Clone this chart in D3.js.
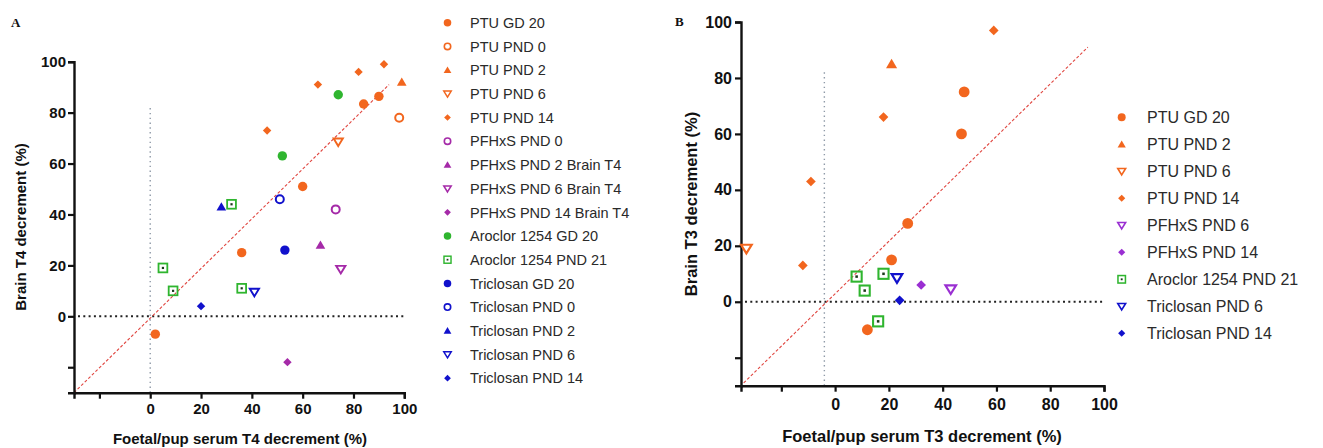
<!DOCTYPE html>
<html>
<head>
<meta charset="utf-8">
<script src="https://cdn.jsdelivr.net/npm/d3@7"></script>
<style>
  html, body { margin: 0; padding: 0; background: #fff; }
  svg text { font-family: "Liberation Sans", Arial, sans-serif; }
</style>
</head>
<body>
<svg id="chart" width="1323" height="448"></svg>
<script>
// ---------- DATA ----------
// Panel A: serum T4 vs brain T4
const seriesA = ["PTU GD 20", "PTU PND 0", "PTU PND 2", "PTU PND 6", "PTU PND 14",
  "PFHxS PND 0", "PFHxS PND 2 Brain T4", "PFHxS PND 6 Brain T4", "PFHxS PND 14 Brain T4",
  "Aroclor 1254 GD 20", "Aroclor 1254 PND 21",
  "Triclosan GD 20", "Triclosan PND 0", "Triclosan PND 2", "Triclosan PND 6", "Triclosan PND 14"];
const pointsA = [
  ["PTU GD 20", 84, 83.4], ["PTU GD 20", 90, 86.4], ["PTU GD 20", 60, 51], ["PTU GD 20", 36, 25], ["PTU GD 20", 2, -7],
  ["PTU PND 0", 98, 78],
  ["PTU PND 2", 99, 92],
  ["PTU PND 6", 74, 68.5],
  ["PTU PND 14", 66, 91], ["PTU PND 14", 82, 96], ["PTU PND 14", 92, 99], ["PTU PND 14", 46, 73],
  ["PFHxS PND 0", 73, 42],
  ["PFHxS PND 2 Brain T4", 67, 28],
  ["PFHxS PND 6 Brain T4", 75, 18.5],
  ["PFHxS PND 14 Brain T4", 54, -18],
  ["Aroclor 1254 GD 20", 74, 87], ["Aroclor 1254 GD 20", 52, 63],
  ["Aroclor 1254 PND 21", 32, 44], ["Aroclor 1254 PND 21", 5, 19], ["Aroclor 1254 PND 21", 9, 10], ["Aroclor 1254 PND 21", 36, 11],
  ["Triclosan GD 20", 53, 26],
  ["Triclosan PND 0", 51, 46],
  ["Triclosan PND 2", 28, 43],
  ["Triclosan PND 6", 41, 9.5],
  ["Triclosan PND 14", 20, 4]
];
// Panel B: serum T3 vs brain T3
const seriesB = ["PTU GD 20", "PTU PND 2", "PTU PND 6", "PTU PND 14", "PFHxS PND 6", "PFHxS PND 14",
  "Aroclor 1254 PND 21", "Triclosan PND 6", "Triclosan PND 14"];
const pointsB = [
  ["PTU GD 20", 48, 75], ["PTU GD 20", 47, 60], ["PTU GD 20", 27, 28], ["PTU GD 20", 21, 15], ["PTU GD 20", 12, -10],
  ["PTU PND 2", 21, 85],
  ["PTU PND 6", -33, 19],
  ["PTU PND 14", 59, 97], ["PTU PND 14", 18, 66], ["PTU PND 14", -9, 43], ["PTU PND 14", -12, 13],
  ["PFHxS PND 6", 43, 4.5],
  ["PFHxS PND 14", 32, 6],
  ["Aroclor 1254 PND 21", 8, 9], ["Aroclor 1254 PND 21", 18, 10], ["Aroclor 1254 PND 21", 11, 4], ["Aroclor 1254 PND 21", 16, -7],
  ["Triclosan PND 6", 23, 8.5],
  ["Triclosan PND 14", 24, 0.5]
];
// tick values and reference lines
const tickValues = [-20, 0, 20, 40, 60, 80, 100];
const diagA = [[-30, -30], [94, 91]];
const diagB = [[-34, -29], [94, 91]];
const vlineA = [0, -30, 82];   // x, y from, y to
const vlineB = [-4, -30, 82];

// ---------- STYLES ----------
const ORANGE = "#f2661e", PURPLE_A = "#a52aa8", PURPLE_B = "#9a2fd2", GREEN = "#2fb52f", BLUE = "#1111cc";
function styleOf(name, panel) {
  let color = ORANGE;
  if (name.startsWith("PFHxS")) color = panel === "A" ? PURPLE_A : PURPLE_B;
  else if (name.startsWith("Aroclor")) color = GREEN;
  else if (name.startsWith("Triclosan")) color = BLUE;
  let shape;
  if (name.includes("PND 21")) shape = "square";
  else if (name.endsWith("GD 20")) shape = "circle";
  else if (/PND 0$/.test(name)) shape = "ocircle";
  else if (/PND 2( Brain T4)?$/.test(name)) shape = "triangle";
  else if (/PND 6( Brain T4)?$/.test(name)) shape = "otriangle";
  else shape = "diamond";
  return { color, shape };
}

function drawMarker(g, shape, color, s) {
  if (shape === "circle") {
    g.append("circle").attr("r", 4.7 * s).attr("fill", color);
  } else if (shape === "ocircle") {
    g.append("circle").attr("r", 4.0 * s).attr("fill", "none").attr("stroke", color).attr("stroke-width", 2 * s);
  } else if (shape === "triangle") {
    const h = 4.6 * s;
    g.append("path").attr("d", `M0,${-h}L${h * 1.05},${h * 0.8}L${-h * 1.05},${h * 0.8}Z`).attr("fill", color);
  } else if (shape === "otriangle") {
    const h = 4.2 * s;
    g.append("path").attr("d", `M0,${h}L${h * 1.1},${-h * 0.8}L${-h * 1.1},${-h * 0.8}Z`)
      .attr("fill", "none").attr("stroke", color).attr("stroke-width", 1.9 * s);
  } else if (shape === "diamond") {
    const h = 4.2 * s;
    g.append("path").attr("d", `M0,${-h}L${h},0L0,${h}L${-h},0Z`).attr("fill", color);
  } else if (shape === "square") {
    const h = 4.4 * s;
    g.append("rect").attr("x", -h).attr("y", -h).attr("width", 2 * h).attr("height", 2 * h)
      .attr("fill", "none").attr("stroke", color).attr("stroke-width", 1.8 * s);
    g.append("rect").attr("x", -1.1 * s).attr("y", -1.1 * s).attr("width", 2.2 * s).attr("height", 2.2 * s).attr("fill", "#1a3a1a");
  }
}

const svg = d3.select("#chart");

function panel(cfg) {
  const x = d3.scaleLinear().domain(cfg.xDomain).range(cfg.xRange);
  const y = d3.scaleLinear().domain([-30, 100]).range(cfg.yRange);
  const g = svg.append("g");

  // reference lines
  g.append("line")
    .attr("x1", x(cfg.vline[0])).attr("x2", x(cfg.vline[0]))
    .attr("y1", y(cfg.vline[1])).attr("y2", y(cfg.vline[2]))
    .attr("stroke", "#8f9aa8").attr("stroke-width", 1.4).attr("stroke-dasharray", "1.4,3.4");
  g.append("line")
    .attr("x1", x(cfg.xDomain[0]) + 4).attr("x2", x(100))
    .attr("y1", y(0)).attr("y2", y(0))
    .attr("stroke", "#222").attr("stroke-width", 2).attr("stroke-dasharray", "2,3.3");
  g.append("line")
    .attr("x1", x(cfg.diag[0][0])).attr("y1", y(cfg.diag[0][1]))
    .attr("x2", x(cfg.diag[1][0])).attr("y2", y(cfg.diag[1][1]))
    .attr("stroke", "#e0453f").attr("stroke-width", 1.1).attr("stroke-dasharray", "3,2");

  // axes
  const fmt = d => (d === -20 ? "" : d);
  const xa = g.append("g").attr("transform", `translate(0,${cfg.yRange[0]})`)
    .call(d3.axisBottom(x).tickValues(tickValues).tickFormat(fmt).tickSizeOuter(0).tickSize(6).tickPadding(cfg.xPad));
  const ya = g.append("g").attr("transform", `translate(${cfg.xRange[0]},0)`)
    .call(d3.axisLeft(y).tickValues(tickValues).tickFormat(fmt).tickSizeOuter(0).tickSize(6).tickPadding(cfg.yPad));
  [xa, ya].forEach(a => {
    a.select(".domain").attr("stroke", "#111").attr("stroke-width", 2.4);
    a.selectAll(".tick line").attr("stroke", "#111").attr("stroke-width", 2.2);
    a.selectAll(".tick text").attr("fill", "#111").attr("font-size", cfg.tickFont)
      .attr("font-weight", "bold").attr("font-family", "Liberation Sans, Arial, sans-serif");
  });

  // axis titles
  g.append("text").attr("x", cfg.xTitlePos[0]).attr("y", cfg.xTitlePos[1])
    .attr("text-anchor", "middle").attr("font-size", cfg.titleFont).attr("font-weight", "bold").attr("fill", "#111")
    .text(cfg.xTitle);
  g.append("text").attr("transform", `translate(${cfg.yTitlePos[0]},${cfg.yTitlePos[1]}) rotate(-90)`)
    .attr("text-anchor", "middle").attr("font-size", cfg.titleFont).attr("font-weight", "bold").attr("fill", "#111")
    .text(cfg.yTitle);

  // panel letter
  g.append("text").attr("x", cfg.letterPos[0]).attr("y", cfg.letterPos[1])
    .attr("font-weight", "bold").attr("font-size", 13).attr("fill", "#111")
    .style("font-family", "'Liberation Serif', 'Times New Roman', serif").text(cfg.letter);

  // points
  cfg.points.forEach(p => {
    const st = styleOf(p[0], cfg.letter);
    const m = g.append("g").attr("transform", `translate(${x(p[1])},${y(p[2])})`);
    drawMarker(m, st.shape, st.color, cfg.markerScale);
  });

  // legend
  cfg.series.forEach((name, i) => {
    const st = styleOf(name, cfg.letter);
    const yy = cfg.legendY0 + i * cfg.legendStep;
    const m = g.append("g").attr("transform", `translate(${cfg.legendX},${yy})`);
    drawMarker(m, st.shape, st.color, cfg.legendScale);
    g.append("text").attr("x", cfg.legendTextX).attr("y", yy).attr("dy", "0.36em")
      .attr("font-size", cfg.legendFont).attr("fill", "#2a2a2a").text(name);
  });
}

panel({
  letter: "A", letterPos: [11, 27],
  xDomain: [-30, 100], xRange: [74, 404.3], yRange: [392.7, 61.7],
  points: pointsA, series: seriesA, diag: diagA, vline: vlineA,
  xPad: 5, yPad: 2, tickFont: 15, titleFont: 15,
  xTitle: "Foetal/pup serum T4 decrement (%)", xTitlePos: [240, 444],
  yTitle: "Brain T4 decrement (%)", yTitlePos: [26, 227],
  markerScale: 1, legendScale: 0.8,
  legendX: 447.5, legendTextX: 470, legendY0: 22.7, legendStep: 23.7, legendFont: 14.5
});

panel({
  letter: "B", letterPos: [675, 26],
  xDomain: [-35, 100], xRange: [741, 1104], yRange: [385.7, 22],
  points: pointsB, series: seriesB, diag: diagB, vline: vlineB,
  xPad: 7, yPad: 3, tickFont: 16, titleFont: 16.5,
  xTitle: "Foetal/pup serum T3 decrement (%)", xTitlePos: [922, 442],
  yTitle: "Brain T3 decrement (%)", yTitlePos: [697, 204],
  markerScale: 1.15, legendScale: 0.85,
  legendX: 1121.7, legendTextX: 1147, legendY0: 117.3, legendStep: 27, legendFont: 16
});
</script>
</body>
</html>
